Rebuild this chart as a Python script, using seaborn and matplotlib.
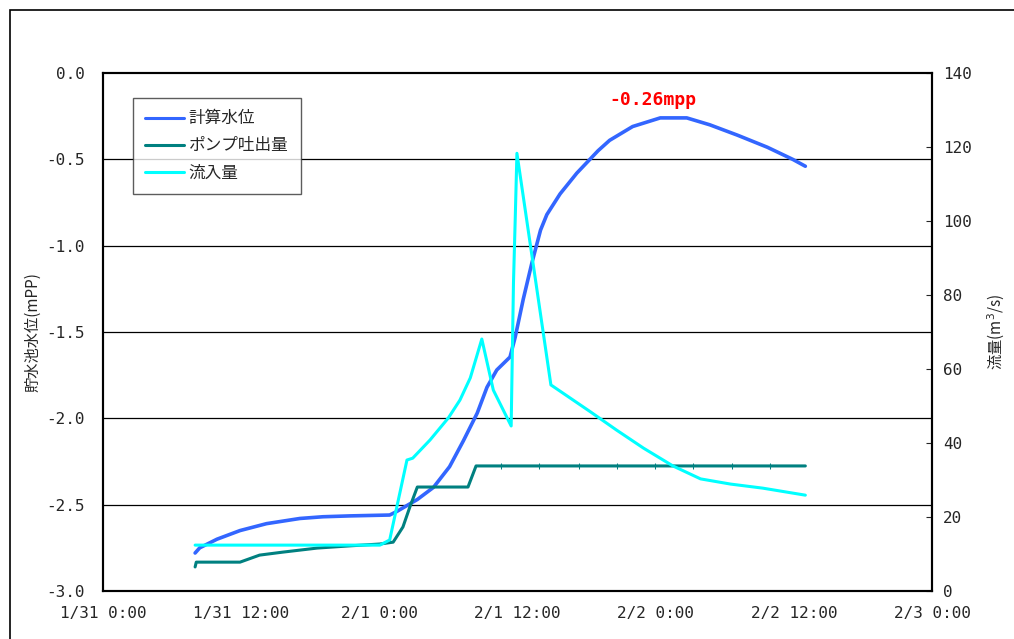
import numpy as np
import pandas as pd
import matplotlib
matplotlib.use("Agg")
import matplotlib.pyplot as plt
import matplotlib.dates as mdates
from matplotlib.lines import Line2D
from matplotlib.patches import Rectangle
import seaborn as sns

# hours since 1/31 0:00
level_hours = [8.0, 8.4, 9.9, 11.9, 14.2, 17.1, 19.1, 21.45, 24.9, 25.5, 27.3, 28.7,
               30.1, 31.3, 32.5, 33.35, 34.2, 35.35, 35.8, 36.5, 37.25, 38.0, 38.55,
               39.7, 41.15, 43.0, 44.0, 46.0, 48.4, 50.7, 52.7, 55.1, 57.7, 59.9, 61.0]
level_vals = [-2.78, -2.75, -2.70, -2.65, -2.61, -2.58, -2.57, -2.565, -2.56, -2.54,
              -2.47, -2.40, -2.28, -2.13, -1.97, -1.82, -1.72, -1.645, -1.53, -1.31,
              -1.10, -0.91, -0.82, -0.70, -0.58, -0.45, -0.39, -0.31, -0.26, -0.26,
              -0.30, -0.36, -0.43, -0.50, -0.54]

pump_hours = [8.0, 8.1, 11.9, 13.6, 15.6, 18.6, 21.45, 24.05, 25.2, 26.05, 26.65, 27.3,
              31.7, 32.4, 34.6, 37.9, 41.3, 44.6, 47.95, 51.25, 54.6, 57.9, 61.0]
pump_vals = [6.5, 7.8, 7.8, 9.7, 10.5, 11.6, 12.2, 12.7, 13.2, 17.3, 22.7, 28.1,
             28.1, 33.8, 33.8, 33.8, 33.8, 33.8, 33.8, 33.8, 33.8, 33.8, 33.8]

inflow_hours = [8.0, 24.05, 24.9, 26.4, 26.9, 28.4, 30.0, 31.0, 31.9, 32.9, 33.9, 35.45,
                35.65, 35.8, 35.95, 38.9, 42.3, 44.6, 46.95, 49.5, 51.9, 54.5, 57.3, 61.0]
inflow_vals = [12.4, 12.4, 13.8, 35.4, 35.9, 40.8, 46.8, 51.6, 57.6, 68.1, 54.3, 44.6,
               83.2, 100.3, 118.3, 55.7, 48.5, 43.5, 38.6, 33.8, 30.3, 28.9, 27.8, 25.9]

series_names = ["計算水位", "ポンプ吐出量", "流入量"]
peak_label = "-0.26mpp"
t0 = pd.Timestamp("2024-01-31 00:00")


def to_time(hours):
    return [t0 + pd.Timedelta(hours=h) for h in hours]


level = pd.DataFrame({"time": to_time(level_hours), "value": level_vals})
pump = pd.DataFrame({"time": to_time(pump_hours), "value": pump_vals})
inflow = pd.DataFrame({"time": to_time(inflow_hours), "value": inflow_vals})

sns.set_style("white")
plt.rcParams["font.family"] = ["Noto Sans CJK JP", "DejaVu Sans"]
tick_font = "DejaVu Sans Mono"

fig = plt.figure(figsize=(10.14, 6.39), dpi=100)
ax = fig.add_axes([103 / 1014, 48 / 639, 829 / 1014, 518 / 639])
ax2 = ax.twinx()

c_level, c_pump, c_inflow = "#3366FF", "#008080", "#00FFFF"

sns.lineplot(data=level, x="time", y="value", ax=ax, color=c_level, lw=2.6, legend=False)
sns.lineplot(data=pump, x="time", y="value", ax=ax2, color=c_pump, lw=2.2,
             marker="|", markersize=4, markevery=list(range(14, 22)),
             markeredgecolor=c_pump, legend=False)
sns.lineplot(data=inflow, x="time", y="value", ax=ax2, color=c_inflow, lw=2.2, legend=False)

ax.set_ylim(-3.0, 0.0)
yt = np.arange(-3.0, 0.01, 0.5)
ax.set_yticks(yt)
ax.set_yticklabels([f"{v:.1f}" for v in yt], fontsize=11.5, family=tick_font)
ax.tick_params(axis="y", length=0, pad=13)

ax2.set_ylim(0, 140)
yt2 = np.arange(0, 141, 20)
ax2.set_yticks(yt2)
ax2.set_yticklabels([str(v) for v in yt2], fontsize=11.5, family=tick_font)
ax2.tick_params(axis="y", direction="in", length=4, pad=8)

ax.set_xlim(t0, t0 + pd.Timedelta(hours=72))
ax.xaxis.set_major_locator(mdates.HourLocator(byhour=[0, 12]))
ax.xaxis.set_major_formatter(mdates.DateFormatter("%-m/%-d %-H:%M"))
ax.tick_params(axis="x", direction="in", length=4, pad=11)
for lbl in ax.get_xticklabels():
    lbl.set_fontfamily(tick_font)
    lbl.set_fontsize(11.5)

for y in np.arange(-2.5, -0.4, 0.5):
    ax.axhline(y, color="black", lw=0.9, zorder=0)

for a in (ax, ax2):
    for s in a.spines.values():
        s.set_color("black")
        s.set_linewidth(1.5)

ax.set_xlabel("")
ax.set_ylabel("貯水池水位(mPP)", fontsize=11, labelpad=4)
ax2.set_xlabel("")
ax2.set_ylabel("流量(m$^3$/s)", fontsize=11, labelpad=10)

ax.text(t0 + pd.Timedelta(hours=47.8), -0.155, peak_label, color="red",
        fontsize=13, fontweight="bold", family=tick_font, ha="center", va="center")

handles = [Line2D([], [], color=c, lw=2.2) for c in (c_level, c_pump, c_inflow)]
leg = ax2.legend(handles, series_names, loc="upper left",
                 bbox_to_anchor=(0.036, 0.952), borderaxespad=0, fontsize=12,
                 frameon=True, fancybox=False, edgecolor="#333333",
                 handlelength=2.3, handletextpad=0.3, labelspacing=0.6, borderpad=0.75)
leg.get_frame().set_linewidth(1.0)

fig.add_artist(Rectangle((10 / 1014, -0.1), 1.2, 1.1 - 10 / 639, transform=fig.transFigure,
                         fill=False, edgecolor="black", lw=1.2, clip_on=False))

fig.savefig("out.png", dpi=100)
